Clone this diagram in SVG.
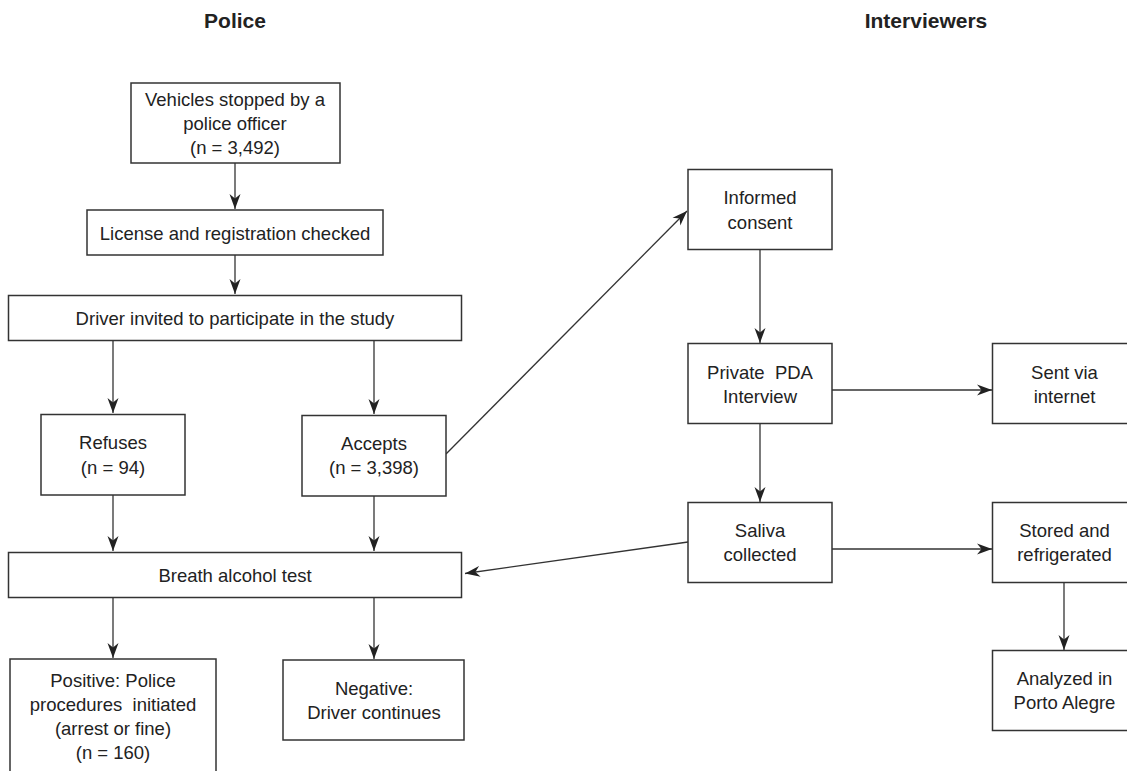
<svg xmlns="http://www.w3.org/2000/svg" width="1127" height="771" viewBox="0 0 1127 771">
<style>
.bg{fill:#fff}
.box{fill:#fff;stroke:#333;stroke-width:1.5}
.t{font-family:"Liberation Sans",Arial,sans-serif;font-size:18.5px;fill:#222;text-anchor:middle}
.h{font-family:"Liberation Sans",Arial,sans-serif;font-size:21px;font-weight:bold;fill:#222;text-anchor:middle}
.c{fill:none;stroke:#333;stroke-width:1.3}
</style>
<defs>
<marker id="ah" markerUnits="userSpaceOnUse" markerWidth="16" markerHeight="12" refX="15" refY="6" orient="auto">
<path d="M0,0.5 L15,6 L0,11.5 L4.5,6 z" fill="#222"/>
</marker>
</defs>
<rect class="bg" x="0" y="0" width="1127" height="771"/>
<text class="h" x="235" y="28">Police</text>
<text class="h" x="926" y="28">Interviewers</text>

<g id="connectors">
<line class="c" x1="235" y1="163" x2="235" y2="209" marker-end="url(#ah)"/>
<line class="c" x1="235" y1="255" x2="235" y2="294" marker-end="url(#ah)"/>
<line class="c" x1="113" y1="341" x2="113" y2="413" marker-end="url(#ah)"/>
<line class="c" x1="374" y1="341" x2="374" y2="414" marker-end="url(#ah)"/>
<line class="c" x1="113" y1="495" x2="113" y2="551" marker-end="url(#ah)"/>
<line class="c" x1="374" y1="496" x2="374" y2="551" marker-end="url(#ah)"/>
<line class="c" x1="113" y1="597" x2="113" y2="658" marker-end="url(#ah)"/>
<line class="c" x1="374" y1="597" x2="374" y2="659" marker-end="url(#ah)"/>
<line class="c" x1="446" y1="454" x2="687" y2="211" marker-end="url(#ah)"/>
<line class="c" x1="760" y1="250" x2="760" y2="343" marker-end="url(#ah)"/>
<line class="c" x1="832" y1="390" x2="992" y2="390" marker-end="url(#ah)"/>
<line class="c" x1="760" y1="424" x2="760" y2="502" marker-end="url(#ah)"/>
<line class="c" x1="832" y1="549" x2="992" y2="549" marker-end="url(#ah)"/>
<line class="c" x1="688" y1="542" x2="465" y2="573.5" marker-end="url(#ah)"/>
<line class="c" x1="1064" y1="582" x2="1064" y2="650" marker-end="url(#ah)"/>
</g>

<g id="vehicles">
<rect class="box" x="131" y="83" width="209" height="80"/>
<text class="t" x="235" y="106">Vehicles stopped by a</text>
<text class="t" x="235" y="130">police officer</text>
<text class="t" x="235" y="154">(n = 3,492)</text>
</g>
<g id="license">
<rect class="box" x="87" y="210" width="296" height="45"/>
<text class="t" x="235" y="240">License and registration checked</text>
</g>
<g id="invited">
<rect class="box" x="8.5" y="295.5" width="453" height="45"/>
<text class="t" x="235" y="325">Driver invited to participate in the study</text>
</g>
<g id="refuses">
<rect class="box" x="41" y="414.5" width="144" height="80.5"/>
<text class="t" x="113" y="449">Refuses</text>
<text class="t" x="113" y="474">(n = 94)</text>
</g>
<g id="accepts">
<rect class="box" x="302" y="415.5" width="144" height="80.5"/>
<text class="t" x="374" y="450">Accepts</text>
<text class="t" x="374" y="474">(n = 3,398)</text>
</g>
<g id="breath">
<rect class="box" x="8.5" y="552.5" width="453" height="45"/>
<text class="t" x="235" y="582">Breath alcohol test</text>
</g>
<g id="positive">
<rect class="box" x="10" y="659" width="206" height="130"/>
<text class="t" x="113" y="687">Positive: Police</text>
<text class="t" x="113" y="711" xml:space="preserve" style="white-space:pre">procedures  initiated</text>
<text class="t" x="113" y="735">(arrest or fine)</text>
<text class="t" x="113" y="759">(n = 160)</text>
</g>
<g id="negative">
<rect class="box" x="283" y="660" width="181" height="80"/>
<text class="t" x="374" y="695">Negative:</text>
<text class="t" x="374" y="719">Driver continues</text>
</g>
<g id="consent">
<rect class="box" x="688" y="169.5" width="144" height="80"/>
<text class="t" x="760" y="204">Informed</text>
<text class="t" x="760" y="228.5">consent</text>
</g>
<g id="pda">
<rect class="box" x="688" y="343.5" width="144" height="80"/>
<text class="t" x="760" y="379" xml:space="preserve" style="white-space:pre">Private  PDA</text>
<text class="t" x="760" y="403">Interview</text>
</g>
<g id="saliva">
<rect class="box" x="688" y="502.5" width="144" height="80"/>
<text class="t" x="760" y="537">Saliva</text>
<text class="t" x="760" y="560.5">collected</text>
</g>
<g id="sent">
<rect class="box" x="992.5" y="343.5" width="144" height="80"/>
<text class="t" x="1064.5" y="379">Sent via</text>
<text class="t" x="1064.5" y="403">internet</text>
</g>
<g id="stored">
<rect class="box" x="992.5" y="502.5" width="144" height="80"/>
<text class="t" x="1064.5" y="537">Stored and</text>
<text class="t" x="1064.5" y="560.5">refrigerated</text>
</g>
<g id="analyzed">
<rect class="box" x="992.5" y="650.5" width="144" height="80"/>
<text class="t" x="1064.5" y="685">Analyzed in</text>
<text class="t" x="1064.5" y="709">Porto Alegre</text>
</g>
</svg>
